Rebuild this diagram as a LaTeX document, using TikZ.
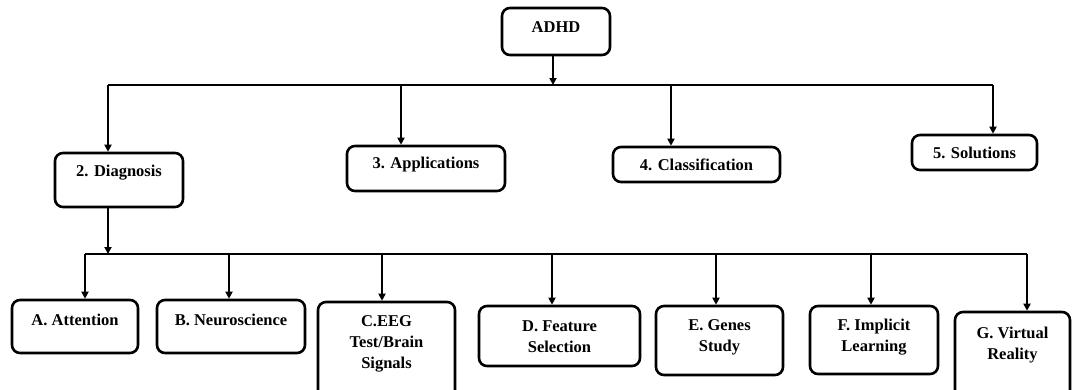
\documentclass[tikz,border=0pt]{standalone}
\usepackage{fontspec}
\setmainfont{Liberation Serif}
\usetikzlibrary{arrows.meta}
\tikzset{
  box/.style={draw, line width=2.6pt, rounded corners=8pt, inner sep=0pt},
  lbl/.style={font=\fontsize{16.5}{21}\selectfont\bfseries, align=center, inner sep=0pt},
  conn/.style={line width=2pt},
  arr/.style={line width=2pt, -{Triangle[length=7pt,width=7pt]}}
}
\begin{document}
\begin{tikzpicture}[x=1pt,y=-1pt]
\clip (0,0) rectangle (1075,389);
\fill[white] (0,0) rectangle (1075,389);
% top boxes
\node[box, minimum width=108pt, minimum height=47pt] (adhd) at (556,31.5) {};
\node[lbl] (adhdt) at (556,27) {ADHD};
\node[box, minimum width=128pt, minimum height=54pt] (diag) at (119,180) {};
\node[lbl] (diagt) at (119,173) {2. Diagnosis};
\node[box, minimum width=158pt, minimum height=45pt] (apps) at (426,168.5) {};
\node[lbl] (appst) at (426,165) {3. Applications};
\node[box, minimum width=167pt, minimum height=35pt] (clas) at (696.5,164.5) {};
\node[lbl] (clast) at (696.5,165) {4. Classification};
\node[box, minimum width=125pt, minimum height=35pt] (sol) at (974.5,152.5) {};
\node[lbl] (solt) at (974.5,153) {5. Solutions};
% bottom boxes
\node[box, minimum width=126pt, minimum height=53pt] (a) at (75,326.5) {};
\node[lbl] (at) at (75,320) {A. Attention};
\node[box, minimum width=148pt, minimum height=53pt] (b) at (231,326.5) {};
\node[lbl] (bt) at (231,320) {B. Neuroscience};
\node[box, minimum width=137pt, minimum height=98pt] (c) at (386.5,351) {};
\node[lbl] (ct) at (386.5,344) {C.EEG\\Test/Brain\\Signals};
\node[box, minimum width=161pt, minimum height=60pt] (d) at (559.5,336) {};
\node[lbl] (dt) at (559.5,337) {D. Feature\\Selection};
\node[box, minimum width=127pt, minimum height=69pt] (e) at (719.5,340.5) {};
\node[lbl] (et) at (719.5,337) {E. Genes\\Study};
\node[box, minimum width=128pt, minimum height=68pt] (f) at (874,340) {};
\node[lbl] (ft) at (874,337) {F. Implicit\\Learning};
\node[box, minimum width=115pt, minimum height=88pt] (g) at (1012.5,356) {};
\node[lbl] (gt) at (1012.5,345) {G. Virtual\\Reality};
% bus 1
\coordinate (t0) at (553,85);
\coordinate (t1) at (108,85);
\coordinate (t2) at (401,85);
\coordinate (t3) at (671,85);
\coordinate (t4) at (993,85);
\draw[arr] (adhd.south -| t0) -- (t0);
\draw[conn] (t1) -- (t4);
\draw[arr] (t1) -- (t1 |- diag.north);
\draw[arr] (t2) -- (t2 |- apps.north);
\draw[arr] (t3) -- (t3 |- clas.north);
\draw[arr] (t4) -- (t4 |- sol.north);
% bus 2
\coordinate (d0) at (108,254);
\coordinate (u1) at (85,254);
\coordinate (u2) at (229,254);
\coordinate (u3) at (382,254);
\coordinate (u4) at (552,254);
\coordinate (u5) at (716,254);
\coordinate (u6) at (871,254);
\coordinate (u7) at (1027,254);
\draw[arr] (diag.south -| d0) -- (d0);
\draw[conn] (u1) -- (u7);
\draw[arr] (u1) -- (u1 |- a.north);
\draw[arr] (u2) -- (u2 |- b.north);
\draw[arr] (u3) -- (u3 |- c.north);
\draw[arr] (u4) -- (u4 |- d.north);
\draw[arr] (u5) -- (u5 |- e.north);
\draw[arr] (u6) -- (u6 |- f.north);
\draw[arr] (u7) -- (u7 |- g.north);
\end{tikzpicture}
\end{document}
